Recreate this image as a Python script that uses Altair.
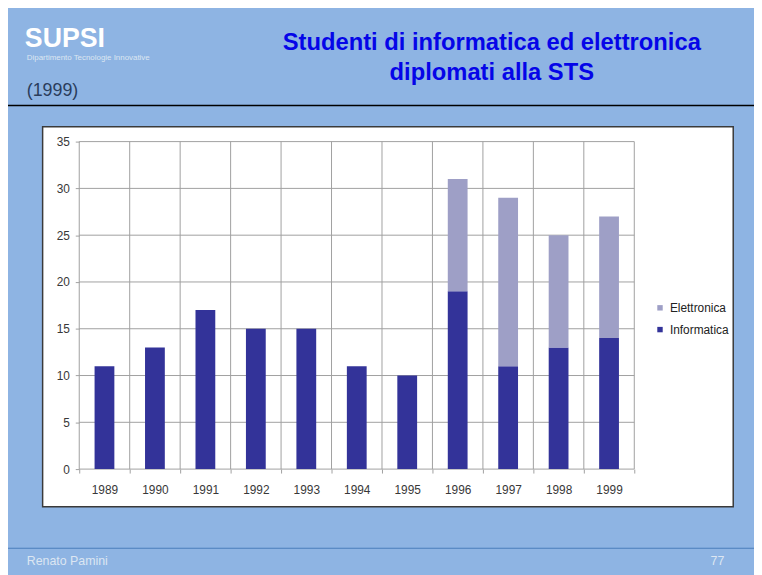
import altair as alt
import pandas as pd

# ---- data ----
years = ["1989", "1990", "1991", "1992", "1993", "1994", "1995", "1996", "1997", "1998", "1999"]
informatica = [11, 13, 17, 15, 15, 11, 10, 19, 11, 13, 14]
elettronica = [0, 0, 0, 0, 0, 0, 0, 12, 18, 12, 13]
series = ["Elettronica", "Informatica"]
series_colors = ["#9E9FC6", "#333399"]
y_ticks = [0, 5, 10, 15, 20, 25, 30, 35]

title_line1 = "Studenti di informatica ed elettronica"
title_line2 = "diplomati alla STS"
logo = "SUPSI"
dept = "Dipartimento Tecnologie Innovative"
subtitle = "(1999)"
author = "Renato Pamini"
page_no = "77"

rows = []
for i, yr in enumerate(years):
    rows.append({"year": yr, "serie": "Informatica", "value": informatica[i], "ord": 0})
    rows.append({"year": yr, "serie": "Elettronica", "value": elettronica[i], "ord": 1})
df = pd.DataFrame(rows)

# ---- layout ----
W, H = 561, 331          # plot area
OX, OY = 80, 140         # page position of plot origin
FONT = "Liberation Sans"
GRID = "#a0a0a0"
BG = "#8EB4E3"


def px(x):
    return x - OX


def py(y):
    return y - OY


one = alt.Data(values=[{"k": 1}])

xscale = alt.Scale(paddingInner=0, paddingOuter=0)
yscale = alt.Scale(domain=[0, 35], nice=False)

xaxis = alt.Axis(
    title=None, labelAngle=0, tickBand="extent", domain=False, grid=False,
    tickSize=4, tickColor=GRID, labelFont=FONT, labelFontSize=12,
    labelColor="#383838", labelPadding=12, zindex=2,
)
yaxis = alt.Axis(
    title=None, values=y_ticks, domain=False, grid=False, tickSize=4,
    tickColor=GRID, labelFont=FONT, labelFontSize=12, labelColor="#383838",
    labelPadding=6, zindex=2,
)

box = alt.Chart(one).mark_rect(fill="white", stroke="#3a3a3a", strokeWidth=1.5).encode(
    x=alt.value(px(43)), x2=alt.value(px(741)), y=alt.value(py(125)), y2=alt.value(py(509))
)
header_line = alt.Chart(one).mark_rule(color="black", strokeWidth=1.5).encode(
    x=alt.value(px(0)), x2=alt.value(px(762)), y=alt.value(py(103.5))
)
footer_line = alt.Chart(one).mark_rule(color="#4A7EBB", strokeWidth=1.2).encode(
    x=alt.value(px(0)), x2=alt.value(px(762)), y=alt.value(py(551))
)

hgrid = alt.Chart(pd.DataFrame({"value": y_ticks})).mark_rule(color=GRID, strokeWidth=1).encode(
    y=alt.Y("value:Q", scale=yscale, axis=yaxis), x=alt.value(0), x2=alt.value(W)
)
vgrid = alt.Chart(pd.DataFrame({"year": years})).mark_rule(color=GRID, strokeWidth=1).encode(
    x=alt.X("year:O", bandPosition=0, scale=xscale, axis=xaxis), y=alt.value(0), y2=alt.value(H)
)
right_edge = alt.Chart(one).mark_rule(color=GRID, strokeWidth=1).encode(
    x=alt.value(W), y=alt.value(0), y2=alt.value(H)
)

bars = alt.Chart(df).mark_bar(size=20).encode(
    x=alt.X("year:O", scale=xscale, axis=xaxis),
    y=alt.Y("value:Q", stack="zero", scale=yscale, axis=yaxis),
    color=alt.Color(
        "serie:N",
        scale=alt.Scale(domain=series, range=series_colors),
        legend=alt.Legend(
            title=None, orient="none", legendX=581, legendY=162, symbolType="square",
            symbolSize=30, symbolStrokeWidth=0, labelFont=FONT, labelFontSize=12,
            labelColor="#222222", rowPadding=10, labelOffset=4, padding=0,
        ),
    ),
    order=alt.Order("ord:Q"),
)


def txt(s, x, y, size, color, weight="normal", align="left"):
    return alt.Chart(one).mark_text(
        text=s, font=FONT, fontSize=size, color=color, fontWeight=weight,
        align=align, baseline="alphabetic",
    ).encode(x=alt.value(x), y=alt.value(y))


texts = [
    txt(logo, px(25), py(44), 27, "white", "bold"),
    txt(dept, px(27), py(58), 8, "#DCE6F2"),
    txt(subtitle, px(27), py(94), 18, "#2A3D5C"),
    txt(title_line1, px(497), py(47), 24, "#0505E8", "bold", "center"),
    txt(title_line2, px(497), py(78), 24, "#0505E8", "bold", "center"),
    txt(author, px(27), py(568), 12.5, "#DCE6F2"),
    txt(page_no, px(732), py(568), 12.5, "#DCE6F2", "normal", "right"),
]

chart = alt.layer(
    box, header_line, footer_line, hgrid, vgrid, right_edge, bars, *texts
).properties(
    width=W,
    height=H,
    padding={"left": OX - 8, "top": OY - 8, "right": 754 - (OX - 8 + W), "bottom": 567 - (OY - 8 + H)},
    autosize=alt.AutoSizeParams(type="none"),
    background=BG,
).configure_view(stroke=None)

chart.save("out.html", embed_options={"renderer": "svg", "actions": False})
